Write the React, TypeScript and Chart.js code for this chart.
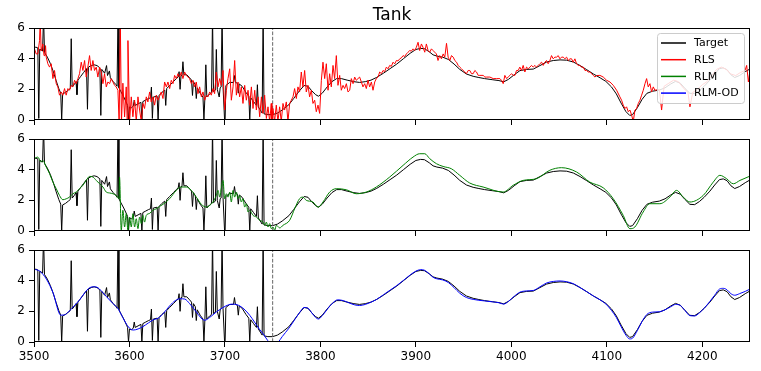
import React, { useEffect, useRef } from 'react';
import { Chart, registerables } from 'chart.js';
Chart.register(...registerables);

// ---------------- data ----------------
const titleText = 'Tank';
const xTicks = [3500, 3600, 3700, 3800, 3900, 4000, 4100, 4200];
const yTicks = [0, 2, 4, 6];
const xMin = 3500;
const xMax = 4250;
const yMin = 0;
const yMax = 6;
const splitAt = 3750;
const seriesNames = ['Target', 'RLS', 'RLM', 'RLM-OD'];

const target: [number, number][] = [
  [3500,4.72],[3502,4.75],[3504,4.7],[3505,0.1],[3506,4.62],[3509,4.5],[3510,6.8],[3511,4.4],[3514,4.1],[3517,3.7],
  [3520,3.2],[3523,2.6],[3526,2.05],[3528,1.75],[3529,0],[3530,1.7],[3533,1.8],[3536,1.95],[3538,2.05],[3539,5.3],
  [3540,2.15],[3542,2.3],[3544,2.5],[3545,1.65],[3546,2.6],[3549,2.85],[3552,3.1],[3555,3.35],[3556,0.7],[3557,3.45],
  [3560,3.55],[3563,3.6],[3566,3.55],[3569,3.4],[3570,0.3],[3571,3.3],[3574,3.05],[3576,3.55],[3577,2.9],[3579,3.2],
  [3580,2.75],[3583,2.5],[3586,2.3],[3587,2.2],[3588,6.8],[3589,2.1],[3591,1.85],[3594,1.5],[3597,1.1],[3598,0.95],
  [3599,0],[3600,0.85],[3602,0.8],[3604,0.9],[3605,1.3],[3606,0.95],[3609,1.05],[3612,1.15],[3613,0],[3614,1.2],
  [3617,1.3],[3620,1.4],[3622,1.45],[3623,2.15],[3624,0.1],[3625,1.5],[3629,1.55],[3630,0],[3631,1.6],[3634,1.8],
  [3637,1.95],[3638,0.95],[3639,2.05],[3642,2.25],[3646,2.5],[3649,2.7],[3651,2.8],[3652,3.15],[3653,2.0],[3654,2.9],
  [3655,2.92],[3656,3.8],[3657,2.95],[3660,2.95],[3663,2.75],[3665,2.6],[3666,1.6],[3667,2.5],[3669,2.3],[3670,1.4],
  [3671,2.1],[3674,1.75],[3677,1.5],[3678,0],[3679,1.45],[3680,3.6],[3681,1.5],[3684,1.7],[3686,1.8],[3687,6.8],
  [3688,1.85],[3690,1.95],[3691,4.6],[3692,2.0],[3694,1.5],[3695,2.1],[3696,2.15],[3697,6.8],[3698,2.2],[3699,2.2],
  [3700,-0.5],[3701,2.25],[3705,2.45],[3709,2.45],[3710,2.9],[3711,2.45],[3713,2.4],[3714,1.75],[3715,2.35],[3718,2.2],
  [3722,1.8],[3725,1.55],[3726,0],[3727,1.45],[3730,1.2],[3733,0.95],[3734,2.3],[3735,0.85],[3738,0.55],[3739,0.45],
  [3740,6.8],[3741,0.4],[3745,0.35],[3750,0.35],[3755,0.45],[3760,0.65],[3767,1.0],[3772,1.4],[3778,1.9],[3783,2.25],
  [3787,2.2],[3791,1.9],[3795,1.65],[3798,1.55],[3802,1.75],[3807,2.15],[3812,2.5],[3817,2.7],[3822,2.7],[3828,2.6],
  [3835,2.5],[3841,2.45],[3847,2.5],[3853,2.6],[3859,2.78],[3866,3.05],[3873,3.35],[3880,3.65],[3887,4.0],[3894,4.35],
  [3900,4.6],[3905,4.67],[3909,4.65],[3914,4.45],[3918,4.25],[3922,4.17],[3928,4.1],[3934,3.95],[3940,3.65],[3946,3.3],
  [3953,3.0],[3960,2.85],[3966,2.77],[3972,2.7],[3980,2.63],[3987,2.57],[3992,2.49],[3997,2.65],[4003,2.95],[4009,3.22],
  [4016,3.3],[4023,3.32],[4030,3.55],[4037,3.78],[4044,3.88],[4051,3.92],[4058,3.9],[4065,3.78],[4072,3.55],[4079,3.28],
  [4086,3.0],[4093,2.75],[4099,2.52],[4105,2.15],[4110,1.7],[4115,1.1],[4120,0.55],[4124,0.3],[4127,0.35],[4132,0.8],
  [4137,1.35],[4142,1.74],[4148,1.88],[4155,1.95],[4161,2.1],[4167,2.35],[4172,2.52],[4177,2.4],[4182,2.05],[4187,1.74],
  [4192,1.72],[4197,1.92],[4202,2.2],[4208,2.6],[4213,3.0],[4218,3.35],[4222,3.4],[4226,3.28],[4230,2.95],[4234,2.77],
  [4239,2.9],[4245,3.15],[4250,3.33],
];

const rls: [number, number][] = [
  [3500.5,4.64],[3502.3,4.31],[3504,4.31],[3505.8,5.18],[3506.5,6.6],[3507.5,4.5],[3509.3,4.96],[3510.5,4.2],[3511.5,4.31],[3512.1,4.85],
  [3512.8,4.1],[3514.5,3.67],[3516.3,3.45],[3518,3.67],[3519.8,2.7],[3521.5,3.23],[3523.3,2.37],[3525,2.16],[3526.7,1.62],[3528.5,1.83],
  [3530.2,1.62],[3532,2.05],[3533.7,1.62],[3535.5,2.05],[3537.2,1.94],[3539,2.26],[3540.7,2.16],[3542.5,2.59],[3544.2,2.37],[3546,2.7],
  [3547.7,3.02],[3549.5,3.77],[3551.2,3.23],[3553,3.88],[3554.7,2.8],[3556.4,3.45],[3558.2,4.2],[3559.9,3.23],[3561.7,3.88],[3563.4,3.23],
  [3565.2,3.45],[3566.9,2.8],[3568.7,3.45],[3570.4,3.13],[3572.2,2.37],[3573.9,3.02],[3575.7,2.16],[3577.4,2.48],[3579.2,2.37],[3580.9,2.7],
  [3582.7,2.48],[3584.4,2.26],[3586.1,2.16],[3587.9,1.94],[3589.2,-0.2],[3590.4,6.6],[3591.6,-0.2],[3593.1,2.4],[3594.9,0.2],[3596.6,2.16],
  [3597.6,-0.1],[3598.4,5.18],[3600.1,-0.1],[3601.9,1.51],[3603.6,0.21],[3605.4,1.29],[3607.1,-0.1],[3608.9,1.51],[3610.6,0.65],[3612.4,-0.1],
  [3614.1,1.08],[3615.8,0.75],[3617.6,1.51],[3619.3,1.18],[3621.1,1.83],[3622.8,1.18],[3624.6,1.51],[3626.3,0.97],[3628.1,1.62],[3629.8,1.29],
  [3631.6,1.55],[3633.3,1.83],[3635.1,1.4],[3636.8,2.48],[3638.6,2.16],[3640.3,2.48],[3642.1,2.05],[3643.8,2.59],[3645.6,2.37],[3647.3,2.91],
  [3649.1,2.7],[3650.8,3.02],[3652.5,2.8],[3654.3,3.13],[3656,2.7],[3657.8,3.13],[3659.5,2.91],[3661.3,2.8],[3663,2.7],[3664.8,2.37],
  [3666.5,2.59],[3668.3,2.16],[3670,2.48],[3671.8,1.72],[3673.5,2.16],[3675.3,1.51],[3677,1.83],[3678.8,1.29],[3680.5,1.62],[3682.2,1.51],
  [3684,1.83],[3685.7,1.62],[3687.5,2.05],[3689.2,1.72],[3691,3.13],[3692.7,2.16],[3694.5,2.7],[3696.2,2.26],[3698,3.23],[3699.7,0.65],
  [3701.5,1.94],[3703.2,2.7],[3705,3.34],[3706.7,1.29],[3708.5,2.16],[3710.2,3.88],[3712,1.62],[3713.7,2.48],[3715.4,1.51],[3717.2,2.16],
  [3718.9,1.08],[3720.7,2.26],[3722.4,1.29],[3724.2,1.94],[3725.9,0.97],[3727.7,2.16],[3729.4,0.75],[3731.2,1.94],[3732.9,0.65],[3734.7,1.51],
  [3736.4,0.21],[3738.2,1.51],[3739.9,0.43],[3741.6,1.62],[3743.4,0.1],[3745.1,0.86],[3746.9,-0.1],[3748.5,1.08],[3749.2,-0.1],[3750.3,0.75],
  [3752,-0.1],[3753.8,0.97],[3755.5,-0.1],[3757.3,0.86],[3759,-0.1],[3760.8,1.08],[3762.5,0.65],[3764.3,1.18],[3766,-0.1],[3767.8,1.08],
  [3769.5,1.29],[3771.3,1.51],[3773,2.05],[3774.8,1.4],[3776.5,2.16],[3778.2,1.83],[3780,3.13],[3781.7,2.16],[3783.5,3.23],[3785.2,1.83],
  [3787,2.26],[3788.7,1.51],[3790.5,1.94],[3792.2,1.08],[3794,1.29],[3795.7,0.54],[3797.5,0.97],[3799.2,0.43],[3801,2.59],[3802.7,3.77],
  [3804.5,2.7],[3806.2,3.67],[3808,1.94],[3809.7,3.02],[3811.4,2.16],[3813.2,3.56],[3814.9,2.7],[3816.7,4.2],[3818.4,2.26],[3820.2,2.91],
  [3821.9,1.94],[3823.7,2.26],[3825.4,2.05],[3827.2,2.37],[3828.9,1.83],[3830.7,1.94],[3832.4,2.7],[3834.2,2.37],[3835.9,2.8],[3837.6,2.59],
  [3839.4,2.7],[3841.1,2.8],[3842.9,2.48],[3844.6,2.16],[3846.4,2.37],[3848.1,2.05],[3849.9,2.59],[3851.6,2.16],[3853.4,2.48],[3855.1,1.94],
  [3856.9,2.48],[3858.6,2.7],[3860.4,2.8],[3862.1,3.13],[3863.9,3.02],[3865.6,3.23],[3867.3,3.15],[3869.1,3.45],[3870.8,3.34],[3872.6,3.56],
  [3874.3,3.5],[3876.1,3.77],[3877.8,3.66],[3879.6,3.88],[3881.3,3.85],[3883.1,3.99],[3884.8,4.05],[3886.6,4.2],[3888.3,4.14],[3890.1,4.31],
  [3891.8,4.42],[3893.6,4.53],[3895.3,4.49],[3897.1,4.64],[3898.8,4.53],[3900.5,4.74],[3902.3,5.07],[3904,4.53],[3905.8,4.96],[3907.5,4.74],
  [3909.3,4.42],[3911,4.96],[3912.8,4.53],[3914.5,4.42],[3916.3,4.64],[3918,4.53],[3921.5,4.31],[3923.2,3.88],[3925,4.2],[3926.8,3.99],
  [3928.6,4.31],[3930.3,4.1],[3932.1,5.0],[3933.8,4.1],[3935.6,3.88],[3937.3,4.2],[3939.1,4.1],[3940.8,3.88],[3942.6,3.77],[3944.3,3.56],
  [3946,3.45],[3947.8,3.34],[3949.5,3.23],[3951.3,3.13],[3953,3.02],[3954.8,3.23],[3956.5,3.23],[3958.3,3.02],[3960,3.02],[3961.8,3.23],
  [3963.5,3.13],[3965.3,2.91],[3967,2.91],[3970.5,2.91],[3972.3,2.8],[3974,2.8],[3977.5,2.8],[3981,2.7],[3984.5,2.7],[3988,2.7],
  [3989.7,2.59],[3991.5,2.37],[3993.2,2.91],[3995,2.7],[3996.7,2.8],[3998.5,2.91],[4000.2,3.02],[4002,2.91],[4003.7,2.91],[4005.4,3.23],
  [4007.2,3.23],[4008.9,3.45],[4010.7,3.23],[4012.4,3.56],[4014.2,3.13],[4015.9,3.45],[4017.7,3.34],[4019.4,3.45],[4021.2,3.56],[4022.9,3.45],
  [4024.7,3.56],[4026.4,3.45],[4028.2,3.56],[4029.9,3.67],[4031.7,3.77],[4033.4,3.56],[4035.1,3.77],[4036.9,3.88],[4038.6,3.67],[4040.4,3.88],
  [4042.1,4.2],[4043.9,3.99],[4045.6,4.1],[4047.4,4.1],[4049.1,4.2],[4050.9,3.99],[4052.6,4.1],[4054.4,4.1],[4056.1,3.99],[4057.9,4.1],
  [4059.6,3.88],[4061.4,3.99],[4063.1,3.99],[4064.8,3.77],[4066.6,3.99],[4068.3,3.67],[4070.1,3.56],[4071.8,3.56],[4073.6,3.45],[4075.3,3.45],
  [4077.1,3.23],[4078.8,3.23],[4080.6,3.13],[4082.3,3.13],[4084.1,3.02],[4085.8,2.91],[4087.6,2.8],[4089.3,2.9],[4092.8,2.91],[4096.3,2.8],
  [4099.8,2.59],[4103.3,2.48],[4106.8,2.26],[4110.3,1.94],[4113.7,1.51],[4115.5,1.29],[4117.2,0.97],[4119,0.75],[4120.7,0.86],[4122.5,0.54],
  [4124.2,0.65],[4126,0.32],[4127.7,-0.1],[4129.5,0.65],[4131.2,0.75],[4133,1.08],[4134.7,1.29],[4136.5,1.62],[4138.2,1.94],[4140,2.37],
  [4141.7,2.7],[4143.4,2.16],[4145.2,2.37],[4146.9,1.83],[4148.7,2.16],[4150.4,1.94],[4155,2.0],[4157.4,0.65],[4160,2.2],[4165,2.4],
  [4170,2.6],[4175,2.5],[4180,2.1],[4185,1.8],[4187.1,0.86],[4190,1.8],[4195,2.0],[4200,2.3],[4205,2.5],[4210,2.9],
  [4215,3.3],[4220,3.45],[4225,3.3],[4230,3.0],[4235,2.9],[4240,3.1],[4244.8,3.23],[4246.5,3.56],[4248.3,2.48],[4250,3.23],
];

const rlm: [number, number][] = [
  [3500.2,4.72],[3504,4.82],[3507.5,4.5],[3509.3,4.6],[3512.8,4.17],[3516.3,3.74],[3519.8,3.19],[3523.3,2.76],[3526.7,2.32],[3530.2,2.04],
  [3533.7,2.1],[3537.2,2.21],[3540.7,2.43],[3544.2,2.54],[3547.7,2.76],[3551.2,2.98],[3554.7,3.3],[3558.2,3.56],[3561.7,3.52],[3565.2,3.3],
  [3568.7,3.08],[3572.2,2.87],[3575.7,2.54],[3579.2,2.48],[3582.7,2.43],[3586.1,2.32],[3589,2.1],[3589.6,3.52],[3591.4,0.04],[3593.1,1.35],
  [3594.9,0.26],[3596.6,1.13],[3598.4,0.04],[3600.1,0.91],[3601.9,0.26],[3603.6,1.13],[3605.4,0.26],[3607.1,0.8],[3608.9,0.15],[3610.6,0.91],
  [3612.4,0.48],[3614.1,1.02],[3615.8,0.58],[3617.6,1.02],[3621.1,1.15],[3624.6,1.35],[3628.1,1.45],[3631.6,1.6],[3635.1,1.74],[3642.1,2.11],
  [3649.1,2.65],[3654.3,2.87],[3659.5,2.87],[3664.8,2.65],[3670,2.21],[3675.3,1.74],[3680.5,1.56],[3684,1.67],[3687.5,1.89],[3691,2.32],
  [3692.7,2.65],[3694.5,2.21],[3696.2,2.76],[3698,3.3],[3699.7,2.11],[3701.5,2.43],[3703.2,2.21],[3705,2.54],[3706.7,1.89],[3708.5,2.65],
  [3710.2,2.21],[3712,2.54],[3713.7,2.11],[3715.4,2.32],[3717.2,1.89],[3718.9,2.11],[3720.7,1.56],[3722.4,1.78],[3724.2,1.24],[3725.9,1.35],
  [3729.4,1.02],[3732.9,0.91],[3736.4,0.7],[3739.9,0.58],[3741.6,0.37],[3743.4,0.58],[3745.1,0.26],[3746.9,0.48],[3748.6,0.15],[3750.4,0.26],
  [3752.1,0.04],[3753.9,0.37],[3757.4,0.2],[3760.8,0.37],[3767.8,0.7],[3773,1.45],[3778.2,2.11],[3781.7,2.21],[3785.2,2.0],[3792.2,1.89],
  [3797.5,1.56],[3802.7,1.89],[3809.7,2.54],[3816.7,2.76],[3827.2,2.69],[3837.6,2.43],[3848.1,2.54],[3858.6,2.87],[3872.6,3.52],[3886.6,4.28],
  [3897,4.82],[3904,5.04],[3909.3,5.04],[3914.5,4.72],[3921.5,4.39],[3928.5,4.21],[3937.2,4.06],[3946,3.63],[3956.4,3.13],[3970.4,2.87],
  [3991.4,2.54],[4001.9,2.98],[4012.4,3.3],[4026.3,3.41],[4040.3,3.96],[4052.5,4.13],[4068.3,3.85],[4082.2,3.19],[4096.2,2.82],[4106.7,2.11],
  [4117.2,1.02],[4124.2,0.15],[4129.4,0.26],[4138.1,1.24],[4145.1,1.78],[4155.6,1.78],[4166.1,2.21],[4173.1,2.65],[4180.1,2.21],[4187.1,1.89],
  [4201,2.32],[4211.5,3.19],[4218.5,3.63],[4225.5,3.41],[4232.5,3.08],[4239.5,3.3],[4249.2,3.56],
];

const rlmOd: [number, number][] = [
  [3500,4.75],[3506,4.62],[3513,4.1],[3520,3.2],[3528,1.75],[3533,1.8],[3537,2.02],[3542,2.35],[3548,2.77],[3553,3.2],
  [3558,3.53],[3562,3.6],[3566,3.57],[3571,3.3],[3576,2.95],[3582,2.55],[3588,2.17],[3593,1.6],[3597,1.15],[3601,0.85],
  [3604,0.78],[3609,0.85],[3614,1.0],[3620,1.25],[3625,1.45],[3630,1.55],[3636,1.9],[3642,2.35],[3648,2.7],[3653,2.82],
  [3658,2.8],[3663,2.5],[3667,2.2],[3672,1.8],[3676,1.5],[3679,1.42],[3684,1.6],[3691,1.96],[3698,2.25],[3704,2.43],
  [3709,2.47],[3714,2.4],[3720,2.15],[3726,1.74],[3731,1.3],[3736,0.84],[3741,0.45],[3745,0.08],[3749,-0.15],[3753,-0.2],
  [3756,0.0],[3760,0.35],[3767,0.9],[3773,1.45],[3778,1.9],[3783,2.25],[3787,2.2],[3791,1.9],[3795,1.6],[3798,1.5],
  [3802,1.72],[3808,2.2],[3813,2.55],[3818,2.75],[3824,2.7],[3830,2.55],[3836,2.42],[3841,2.38],[3847,2.45],[3853,2.6],
  [3859,2.78],[3866,3.08],[3873,3.38],[3880,3.68],[3887,4.02],[3894,4.37],[3900,4.62],[3905,4.72],[3909,4.68],[3914,4.45],
  [3918,4.22],[3922,4.12],[3928,4.05],[3934,3.88],[3940,3.55],[3946,3.18],[3953,2.9],[3960,2.78],[3966,2.72],[3972,2.68],
  [3980,2.62],[3987,2.56],[3992,2.47],[3997,2.65],[4003,2.98],[4009,3.25],[4016,3.33],[4023,3.36],[4030,3.6],[4037,3.85],
  [4044,3.95],[4051,3.98],[4058,3.93],[4065,3.8],[4072,3.55],[4079,3.28],[4086,3.0],[4093,2.75],[4099,2.48],[4105,2.05],
  [4110,1.6],[4115,1.0],[4120,0.45],[4124,0.2],[4127,0.25],[4132,0.75],[4137,1.35],[4142,1.8],[4148,1.95],[4155,1.97],
  [4161,2.1],[4167,2.3],[4172,2.45],[4177,2.38],[4182,2.05],[4187,1.72],[4192,1.7],[4197,1.9],[4202,2.2],[4208,2.65],
  [4213,3.05],[4218,3.45],[4222,3.5],[4226,3.4],[4230,3.15],[4234,3.05],[4239,3.15],[4245,3.3],[4250,3.45],
];

// ---------------- layout / style ----------------
const W = 761;
const H = 371;
const FONT = "'DejaVu Sans', sans-serif";
const seriesColors = ['#000000', '#ff0000', '#008000', '#0000ff'];
const PANELS = [
  { top: 28, bottom: 120, series: rls, color: seriesColors[1], showX: false, smooth: false, first: true },
  { top: 139, bottom: 231, series: rlm, color: seriesColors[2], showX: false, smooth: true, first: false },
  { top: 250, bottom: 342, series: rlmOd, color: seriesColors[3], showX: true, smooth: true, first: false },
];
const X_AXIS_H = 30;
const Y_AXIS_W = 34;
const PAD_RIGHT = 11;

const toPts = (arr: [number, number][]) => arr.map(([x, y]) => ({ x, y }));

const framePlugin = {
  id: 'frame',
  afterDatasetsDraw(chart: any) {
    const { ctx, chartArea: a } = chart;
    ctx.save();
    ctx.strokeStyle = '#000';
    ctx.lineWidth = 1;
    ctx.strokeRect(Math.round(a.left) + 0.5, Math.round(a.top) + 0.5, Math.round(a.right - a.left) - 1, Math.round(a.bottom - a.top) - 1);
    ctx.restore();
  },
};

const titlePlugin = {
  id: 'tankTitle',
  afterDraw(chart: any) {
    const { ctx, chartArea: a } = chart;
    ctx.save();
    ctx.fillStyle = '#000';
    ctx.font = `17px ${FONT}`;
    ctx.textAlign = 'center';
    ctx.textBaseline = 'alphabetic';
    ctx.fillText(titleText, (a.left + a.right) / 2, 20);
    ctx.restore();
  },
};

const legendPlugin = {
  id: 'boxLegend',
  afterDraw(chart: any) {
    const { ctx, chartArea: a } = chart;
    const bw = 87, bh = 70;
    const x0 = a.right - 5.5 - bw;
    const y0 = a.top + 5.5;
    ctx.save();
    ctx.beginPath();
    const r = 3;
    ctx.moveTo(x0 + r, y0);
    ctx.lineTo(x0 + bw - r, y0);
    ctx.arcTo(x0 + bw, y0, x0 + bw, y0 + r, r);
    ctx.lineTo(x0 + bw, y0 + bh - r);
    ctx.arcTo(x0 + bw, y0 + bh, x0 + bw - r, y0 + bh, r);
    ctx.lineTo(x0 + r, y0 + bh);
    ctx.arcTo(x0, y0 + bh, x0, y0 + bh - r, r);
    ctx.lineTo(x0, y0 + r);
    ctx.arcTo(x0, y0, x0 + r, y0, r);
    ctx.closePath();
    ctx.fillStyle = 'rgba(255,255,255,0.85)';
    ctx.fill();
    ctx.strokeStyle = '#cccccc';
    ctx.lineWidth = 1;
    ctx.stroke();
    ctx.font = `11px ${FONT}`;
    ctx.textBaseline = 'middle';
    ctx.textAlign = 'left';
    seriesNames.forEach((name, i) => {
      const cy = y0 + 9.5 + i * 16.7;
      ctx.beginPath();
      ctx.strokeStyle = seriesColors[i];
      ctx.lineWidth = 1.5;
      ctx.moveTo(x0 + 3.5, cy);
      ctx.lineTo(x0 + 28.5, cy);
      ctx.stroke();
      ctx.fillStyle = '#000';
      ctx.fillText(name, x0 + 36.5, cy + 0.5);
    });
    ctx.restore();
  },
};

function makeConfig(p: typeof PANELS[number]): any {
  const datasets: any[] = [
    {
      data: toPts(p.series),
      borderColor: p.color,
      borderWidth: 1,
      borderJoinStyle: 'round',
      pointRadius: 0,
      tension: 0,
      cubicInterpolationMode: p.smooth ? 'monotone' : 'default',
      order: 0,
    },
    {
      data: [{ x: splitAt, y: yMin }, { x: splitAt, y: yMax }],
      borderColor: '#666666',
      borderWidth: 1,
      borderDash: [3.7, 1.6],
      pointRadius: 0,
      order: 1,
    },
    {
      data: toPts(target),
      borderColor: seriesColors[0],
      borderWidth: 1,
      borderJoinStyle: 'round',
      pointRadius: 0,
      tension: 0,
      order: 2,
    },
  ];
  const plugins: any[] = [framePlugin];
  if (p.first) plugins.push(titlePlugin, legendPlugin);
  return {
    type: 'line',
    data: { datasets },
    plugins,
    options: {
      responsive: false,
      animation: false,
      events: [],
      layout: { padding: { left: 0, right: PAD_RIGHT, top: p.top, bottom: H - p.bottom - X_AXIS_H } },
      plugins: { legend: { display: false }, tooltip: { enabled: false }, title: { display: false } },
      scales: {
        x: {
          type: 'linear',
          min: xMin,
          max: xMax,
          afterFit: (s: any) => { s.height = X_AXIS_H; },
          afterBuildTicks: (s: any) => { s.ticks = xTicks.map((v) => ({ value: v })); },
          grid: { drawOnChartArea: false, drawTicks: true, tickLength: 5, color: '#000', tickColor: '#000', lineWidth: 1 },
          border: { display: false },
          ticks: {
            color: p.showX ? '#000' : 'rgba(0,0,0,0)',
            font: { size: 12, family: FONT },
            padding: 3,
            maxRotation: 0,
            autoSkip: false,
            callback: (v: any) => String(v),
          },
        },
        y: {
          type: 'linear',
          min: yMin,
          max: yMax,
          afterFit: (s: any) => { s.width = Y_AXIS_W; },
          afterBuildTicks: (s: any) => { s.ticks = yTicks.map((v) => ({ value: v })); },
          grid: { drawOnChartArea: false, drawTicks: true, tickLength: 5, color: '#000', tickColor: '#000', lineWidth: 1 },
          border: { display: false },
          ticks: { color: '#000', font: { size: 12, family: FONT }, padding: 4, callback: (v: any) => String(v) },
        },
      },
    },
  };
}

export default function App() {
  const r0 = useRef<HTMLCanvasElement>(null);
  const r1 = useRef<HTMLCanvasElement>(null);
  const r2 = useRef<HTMLCanvasElement>(null);
  useEffect(() => {
    document.body.style.margin = '0';
    Chart.defaults.font.family = FONT;
    Chart.defaults.color = '#000';
    const refs = [r0, r1, r2];
    const charts = PANELS.map((p, i) => new Chart(refs[i].current as HTMLCanvasElement, makeConfig(p)));
    return () => charts.forEach((c) => c.destroy());
  }, []);
  const cs: React.CSSProperties = { position: 'absolute', left: 0, top: 0, width: W, height: H };
  return (
    <div style={{ position: 'fixed', left: 0, top: 0, width: W, height: H, background: '#fff' }}>
      <canvas ref={r0} width={W} height={H} style={cs} />
      <canvas ref={r1} width={W} height={H} style={cs} />
      <canvas ref={r2} width={W} height={H} style={cs} />
    </div>
  );
}
